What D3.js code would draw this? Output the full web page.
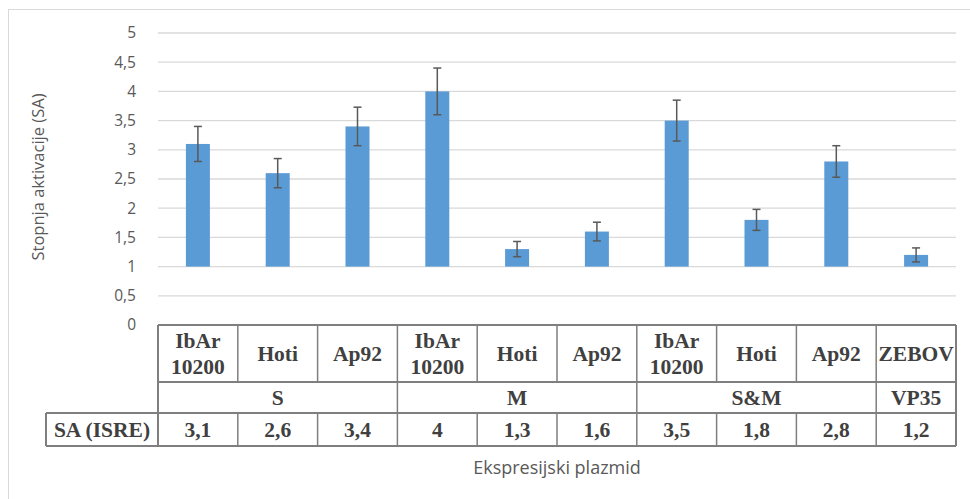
<!DOCTYPE html>
<html><head><meta charset="utf-8">
<script src="https://cdn.jsdelivr.net/npm/d3@7"></script>
<style>body{margin:0;background:#fff}svg{display:block}</style>
</head><body><svg id="c" width="970" height="499"></svg>
<script>
const plasmids = ["IbAr\n10200","Hoti","Ap92","IbAr\n10200","Hoti","Ap92","IbAr\n10200","Hoti","Ap92","ZEBOV"];
const groups = [{name:"S",span:3},{name:"M",span:3},{name:"S&M",span:3},{name:"VP35",span:1}];
const values = [3.1,2.6,3.4,4,1.3,1.6,3.5,1.8,2.8,1.2];
const errors = [0.3,0.25,0.33,0.4,0.13,0.16,0.35,0.18,0.27,0.12];
const valueLabels = ["3,1","2,6","3,4","4","1,3","1,6","3,5","1,8","2,8","1,2"];
const yTicks = [0,0.5,1,1.5,2,2.5,3,3.5,4,4.5,5];
const baseline = 1;
const rowLabel = "SA (ISRE)";
const yTitle = "Stopnja aktivacije (SA)";
const xTitle = "Ekspresijski plazmid";

const svg = d3.select("#c");
const left = 158, right = 956;
const x = d3.scaleBand().domain(d3.range(values.length)).range([left,right]).paddingInner(0).paddingOuter(0);
const y = d3.scaleLinear().domain([0,5]).range([325,33]);
const fmt = v => String(v).replace(".",",");

// frame
svg.append("rect").attr("x",8.5).attr("y",9.5).attr("width",975).attr("height",500)
  .attr("fill","none").attr("stroke","#d9d9d9");

// grid
svg.append("g").selectAll("line").data(yTicks.filter(t=>t>0)).join("line")
  .attr("x1",left).attr("x2",right).attr("y1",d=>y(d)).attr("y2",d=>y(d))
  .attr("stroke","#d9d9d9").attr("stroke-width",1.3);

// y axis labels
const yAxis = d3.axisLeft(y).tickValues(yTicks).tickFormat(fmt).tickSize(0).tickPadding(0);
const ga = svg.append("g").attr("transform",`translate(${left-22},0)`).call(yAxis);
ga.select(".domain").remove();
ga.selectAll("text").attr("font-family","'Open Sans',sans-serif").attr("font-size",15.5).attr("fill","#595959");

// bars
const bw = 24;
svg.append("g").selectAll("rect").data(values).join("rect")
  .attr("x",(d,i)=>x(i)+x.bandwidth()/2-bw/2).attr("width",bw)
  .attr("y",d=>y(Math.max(d,baseline))).attr("height",d=>Math.abs(y(baseline)-y(d)))
  .attr("fill","#5b9bd5");

// error bars
const eg = svg.append("g").attr("stroke","#595959").attr("stroke-width",1.5);
values.forEach((v,i)=>{
  const cx = x(i)+x.bandwidth()/2, e = errors[i];
  eg.append("line").attr("x1",cx).attr("x2",cx).attr("y1",y(v+e)).attr("y2",y(v-e));
  eg.append("line").attr("x1",cx-4).attr("x2",cx+4).attr("y1",y(v+e)).attr("y2",y(v+e));
  eg.append("line").attr("x1",cx-4).attr("x2",cx+4).attr("y1",y(v-e)).attr("y2",y(v-e));
});

// table
const r0 = 325, r1 = 382, r2 = 413, r3 = 446, tl = 46;
const tg = svg.append("g");
const stroke = "#7f7f7f";
const line = (x1,y1,x2,y2,w)=>tg.append("line").attr("x1",x1).attr("y1",y1).attr("x2",x2).attr("y2",y2).attr("stroke",stroke).attr("stroke-width",w||1.5);
line(left,r0,right,r0,2);
line(left,r1,right,r1,2.2);
line(tl,r2,right,r2,2);
line(tl,r3,right,r3,2);
line(right,r0,right,r3,2);
line(left,r0,left,r3,2);
line(tl,r2,tl,r3,2);
for(let i=1;i<values.length;i++) line(x(i),r0,x(i),r1);
let acc=0;
groups.forEach((g,gi)=>{ if(gi>0) line(x(acc),r1,x(acc),r2); acc+=g.span; });
for(let i=1;i<values.length;i++) line(x(i),r2,x(i),r3);

const tfont = {"font-family":"'Liberation Serif','Times New Roman',serif","font-weight":"bold","font-size":21.5,"fill":"#404040"};
const txt = (t,cx,cy)=>{const e=tg.append("text").attr("x",cx).attr("y",cy).attr("text-anchor","middle").attr("dominant-baseline","central").text(t);Object.entries(tfont).forEach(([k,v])=>e.attr(k,v));return e;};
plasmids.forEach((p,i)=>{
  const cx = x(i)+x.bandwidth()/2, parts = p.split("\n");
  if(parts.length===1) txt(parts[0],cx,(r0+r1)/2);
  else { txt(parts[0],cx,(r0+r1)/2-13); txt(parts[1],cx,(r0+r1)/2+13); }
});
acc=0;
groups.forEach(g=>{ const cx=(x(acc)+x(acc+g.span-1)+x.bandwidth())/2; txt(g.name,cx,(r1+r2)/2); acc+=g.span; });
valueLabels.forEach((v,i)=>txt(v,x(i)+x.bandwidth()/2,(r2+r3)/2));
txt(rowLabel,(tl+left)/2,(r2+r3)/2);

// titles
svg.append("text").attr("x",(left+right)/2).attr("y",467).attr("text-anchor","middle").attr("dominant-baseline","central")
  .attr("font-family","'Open Sans',sans-serif").attr("font-size",18).attr("fill","#595959").text(xTitle);
svg.append("text").attr("transform",`translate(37,177) rotate(-90)`).attr("text-anchor","middle").attr("dominant-baseline","central")
  .attr("font-family","'Open Sans',sans-serif").attr("font-size",16.5).attr("fill","#595959").text(yTitle);
</script></body></html>
